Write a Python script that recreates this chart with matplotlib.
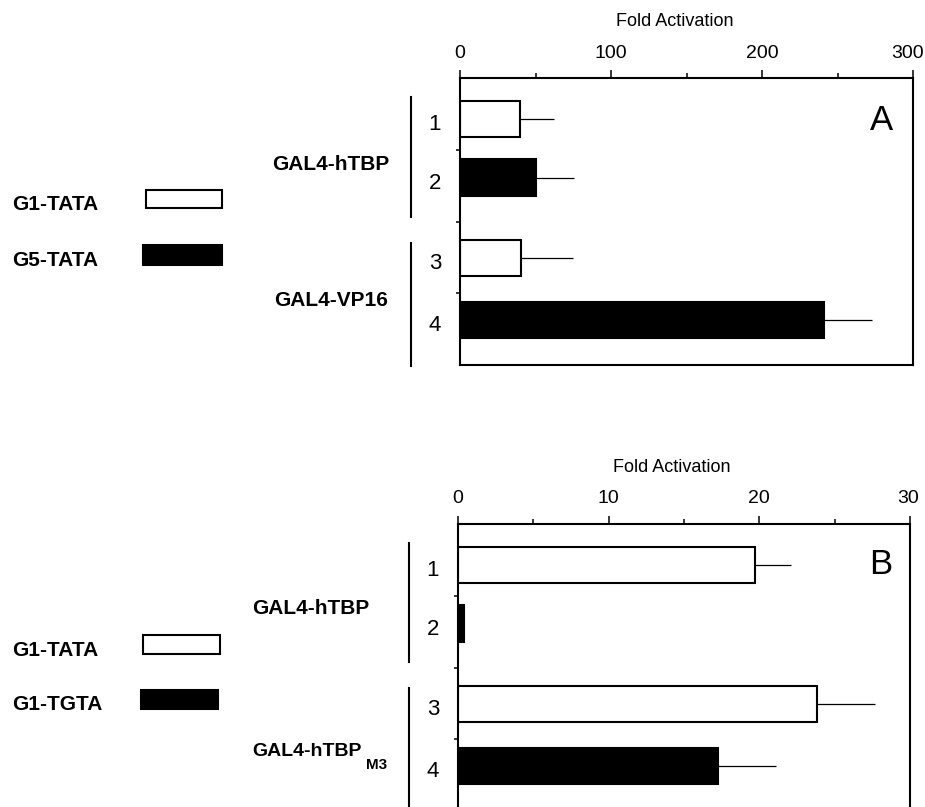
import matplotlib
matplotlib.use("Agg")
import matplotlib.pyplot as plt
from matplotlib.patches import Rectangle
from matplotlib.lines import Line2D
from matplotlib.ticker import MultipleLocator
import matplotlib.transforms as mtransforms

plt.rcParams['font.family'] = ['Liberation Sans', 'DejaVu Sans']

# panel A data
rows_a = ["1", "2", "3", "4"]
fold_a = [40, 50, 40.5, 241]
err_a = [22, 25.5, 34.5, 32]
fill_a = ["white", "black", "white", "black"]
groups_a = ["GAL4-hTBP", "GAL4-VP16"]
legend_a = ["G1-TATA", "G5-TATA"]
ticks_a = [0, 100, 200, 300]

# panel B data
rows_b = ["1", "2", "3", "4"]
fold_b = [19.7, 0.4, 23.8, 17.25]
err_b = [2.4, 0.0, 3.9, 3.85]
fill_b = ["white", "black", "white", "black"]
groups_b = ["GAL4-hTBP", "GAL4-hTBP"]
legend_b = ["G1-TATA", "G1-TGTA"]
ticks_b = [0, 10, 20, 30]

W, H = 925, 807
fig = plt.figure(figsize=(W / 100, H / 100), dpi=100)

def fx(px):
    return px / W

def fy(py):
    return 1 - py / H

# bar layout (slots from top, axis spans 0..4)
bar_pos = [0.57, 1.39, 2.51, 3.37]
bar_h = 0.51


def panel(left, top, right, vals, errs, fills, ticks, rows, last_shift):
    ax = fig.add_axes([fx(left), fy(top + 287), fx(right) - fx(left), 287 / H])
    ax.barh(bar_pos, vals, height=bar_h, color=fills, edgecolor="black", linewidth=1.5)
    ax.errorbar(vals, bar_pos, xerr=[[0] * len(errs), errs], fmt="none",
                ecolor="black", elinewidth=0.9, capsize=0)
    ax.set_xlim(ticks[0], ticks[-1])
    ax.set_ylim(4, 0)
    ax.xaxis.tick_top()
    ax.set_xticks(ticks)
    ax.set_xticklabels([])
    ax.xaxis.set_minor_locator(MultipleLocator((ticks[1] - ticks[0]) / 2))
    ax.tick_params(axis="x", which="major", length=5.8, width=1.1)
    ax.tick_params(axis="x", which="minor", length=3.6, width=1.1)
    ax.set_yticks([1, 2, 3])
    ax.set_yticklabels([])
    ax.tick_params(axis="y", length=3, width=1.1)
    for s in ax.spines.values():
        s.set_linewidth(1.5)
    # tick labels drawn as text so the last one can sit inside the edge
    xtrans = mtransforms.blended_transform_factory(ax.transData, ax.transAxes)
    for i, t in enumerate(ticks):
        dx = last_shift if i == len(ticks) - 1 else 0
        tr = xtrans + mtransforms.ScaledTranslation(dx / 100, 0, fig.dpi_scale_trans)
        ax.text(t, 1 + 25 / 287, str(t), transform=tr, ha="center", va="center",
                fontsize=14, clip_on=False)
    trans = mtransforms.blended_transform_factory(ax.transAxes, ax.transData)
    for p, r in zip(bar_pos, rows):
        ax.text(-25 / (right - left), p + 0.08, r, transform=trans, ha="center",
                va="center", fontsize=16)
    return ax


ax_a = panel(460, 78, 913, fold_a, err_a, fill_a, ticks_a, rows_a, -5)
ax_b = panel(458, 524, 910, fold_b, err_b, fill_b, ticks_b, rows_b, -2)

# axis titles and panel letters
fig.text(fx(675), fy(22), "Fold Activation", ha="center", va="center", fontsize=13)
fig.text(fx(672), fy(468), "Fold Activation", ha="center", va="center", fontsize=13)
fig.text(fx(881), fy(120), "A", ha="center", va="center", fontsize=25)
fig.text(fx(881), fy(565), "B", ha="center", va="center", fontsize=25)

# group labels and brackets
fig.text(fx(331), fy(165), groups_a[0], ha="center", va="center", fontsize=15, fontweight="bold")
fig.text(fx(331), fy(300), groups_a[1], ha="center", va="center", fontsize=15, fontweight="bold")
fig.text(fx(311), fy(608), groups_b[0], ha="center", va="center", fontsize=15, fontweight="bold")
fig.text(fx(252), fy(752), groups_b[1], ha="left", va="center", fontsize=14, fontweight="bold")
fig.text(fx(366), fy(765), "M3", ha="left", va="center", fontsize=11, fontweight="bold")

for x, y0, y1 in [(411, 97, 217), (411, 243, 366), (409, 543, 662), (409, 688, 810)]:
    fig.add_artist(Line2D([fx(x), fx(x)], [fy(y0), fy(y1)], color="black", lw=1.5))

# legends
for lab, yc, (x0, x1, y0, y1), col in [
    (legend_a[0], 205, (146, 222, 190, 208), "white"),
    (legend_a[1], 260, (143, 222, 245, 265), "black"),
    (legend_b[0], 650, (143, 220, 635, 654), "white"),
    (legend_b[1], 705, (141, 218, 690, 709), "black"),
]:
    fig.text(fx(12), fy(yc), lab, ha="left", va="center", fontsize=15, fontweight="bold")
    fig.add_artist(Rectangle((fx(x0), fy(y1)), fx(x1) - fx(x0), fy(y0) - fy(y1),
                             transform=fig.transFigure, facecolor=col,
                             edgecolor="black", lw=1.5))

fig.savefig("out.png", dpi=100)
